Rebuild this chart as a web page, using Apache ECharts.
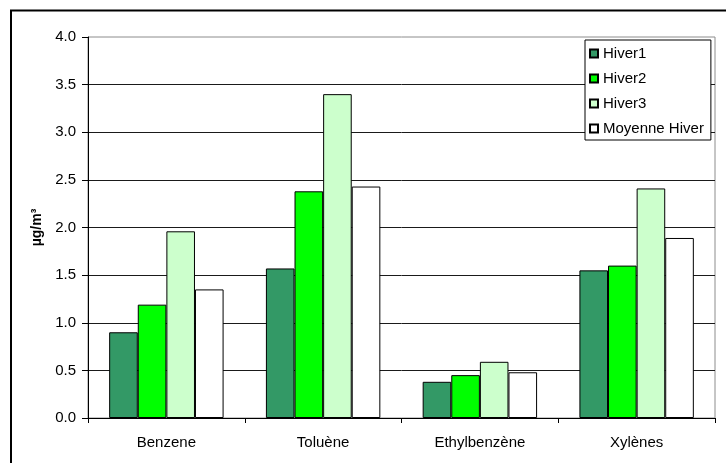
<!DOCTYPE html>
<html>
<head>
<meta charset="utf-8">
<script src="https://cdn.jsdelivr.net/npm/echarts@6/dist/echarts.min.js"></script>
<style>
  html, body { margin: 0; padding: 0; background: #fff; }
  #main { width: 726px; height: 463px; }
</style>
</head>
<body>
<div id="main"></div>
<script>
// categories and values
const categories = ['Benzene', 'Toluène', 'Ethylbenzène', 'Xylènes'];
const hiver1 = [0.90, 1.57, 0.38, 1.55];
const hiver2 = [1.19, 2.38, 0.45, 1.60];
const hiver3 = [1.96, 3.40, 0.59, 2.41];
const moyenneHiver = [1.35, 2.43, 0.48, 1.89];
const seriesNames = ['Hiver1', 'Hiver2', 'Hiver3', 'Moyenne Hiver'];
const yTicks = { min: 0, max: 4, step: 0.5 };

const font = 'Liberation Sans, Arial, sans-serif';

var myChart = echarts.init(document.getElementById('main'));

function barSeries(name, data, color) {
  return {
    name: name,
    type: 'bar',
    data: data,
    barGap: '0%',
    barCategoryGap: '27%',
    itemStyle: { color: color, borderColor: '#000', borderWidth: 1 }
  };
}

const option = {
  animation: false,
  backgroundColor: '#fff',
  textStyle: { fontFamily: font },
  grid: {
    left: 88, right: 11, top: 37, bottom: 45,
    show: true,
    borderColor: '#8c8c8c',
    borderWidth: 1
  },
  legend: {
    orient: 'vertical',
    left: 585,
    top: 40,
    itemWidth: 8,
    itemHeight: 8,
    itemGap: 10,
    padding: [6, 7, 4, 4],
    backgroundColor: '#fff',
    borderColor: '#000',
    borderWidth: 1,
    icon: 'rect',
    textStyle: { fontFamily: font, fontSize: 15, color: '#000' },
    data: seriesNames
  },
  xAxis: {
    type: 'category',
    data: categories,
    axisLine: { lineStyle: { color: '#000', width: 1 } },
    axisTick: { show: true, length: 5, lineStyle: { color: '#000' } },
    axisLabel: { fontFamily: font, fontSize: 15, color: '#000', margin: 17 }
  },
  yAxis: {
    type: 'value',
    min: yTicks.min,
    max: yTicks.max,
    interval: yTicks.step,
    name: 'µg/m³',
    nameLocation: 'middle',
    nameGap: 44,
    nameTextStyle: { fontFamily: font, fontSize: 14, fontWeight: 'bold', color: '#000' },
    axisLine: { show: true, lineStyle: { color: '#000', width: 1 } },
    axisTick: { show: true, length: 6, lineStyle: { color: '#000' } },
    axisLabel: {
      fontFamily: font, fontSize: 15, color: '#000', margin: 12,
      formatter: function (v) { return v.toFixed(1); }
    },
    splitLine: { show: true, showMaxLine: false, lineStyle: { color: '#1a1a1a', width: 1 } }
  },
  graphic: [{
    type: 'rect',
    shape: { x: 11, y: 10.5, width: 1000, height: 1000 },
    style: { fill: null, stroke: '#000', lineWidth: 2 },
    silent: true,
    z: 100
  }],
  series: [
    barSeries(seriesNames[0], hiver1, '#339966'),
    barSeries(seriesNames[1], hiver2, '#00ff00'),
    barSeries(seriesNames[2], hiver3, '#ccffcc'),
    barSeries(seriesNames[3], moyenneHiver, '#ffffff')
  ]
};

myChart.setOption(option);
</script>
</body>
</html>
